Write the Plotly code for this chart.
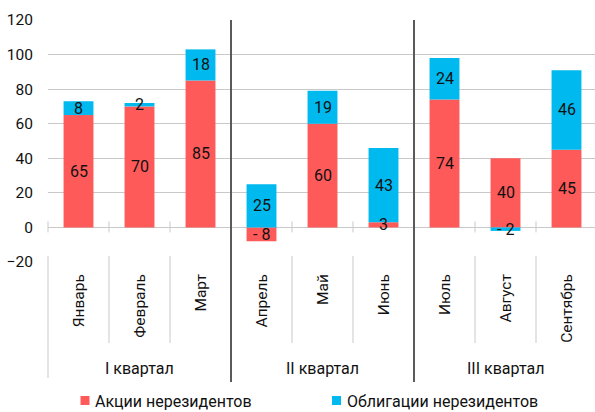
import plotly.graph_objects as go

# Monthly net purchases by non-residents, stacked by instrument
months = ["Январь", "Февраль", "Март", "Апрель", "Май", "Июнь",
          "Июль", "Август", "Сентябрь"]
quarters = ["I квартал", "II квартал", "III квартал"]
shares = [65, 70, 85, -8, 60, 3, 74, 40, 45]
bonds = [8, 2, 18, 25, 19, 43, 24, -2, 46]
series_names = ["Акции нерезидентов", "Облигации нерезидентов"]

RED = "#FF5A5A"
BLUE = "#00B9EE"
GRID = "#C9C9C9"
DARK = "#5A5A5A"
FONT = "Roboto"

W, H = 595, 412
ML, MR, MT, MB = 48, 0, 20, 150
plot_w = W - ML - MR
plot_h = H - MT - MB

Y_MIN, Y_MAX = -20, 120
n = len(months)
cat_px = 61.0
X0 = -0.5
X1 = X0 + plot_w / cat_px


def px_to_paper_x(px):
    return (px - ML) / plot_w


def px_to_paper_y(py):
    return (H - MB - py) / plot_h


def xval_to_paper(x):
    return (x - X0) / (X1 - X0)


def yval_to_paper(v):
    return (v - Y_MIN) / (Y_MAX - Y_MIN)


def fmt(v):
    return f"- {abs(v)}" if v < 0 else f"{v}"


x_idx = list(range(n))

fig = go.Figure()
fig.add_trace(go.Bar(x=x_idx, y=shares, name=series_names[0],
                     marker=dict(color=RED, line=dict(width=0)),
                     showlegend=False, hoverinfo="y"))
fig.add_trace(go.Bar(x=x_idx, y=bonds, name=series_names[1],
                     marker=dict(color=BLUE, line=dict(width=0)),
                     showlegend=False, hoverinfo="y"))

# Value labels centred in each stacked segment
annotations = []
for i in range(n):
    pos_base, neg_base = 0.0, 0.0
    for v in (shares[i], bonds[i]):
        if v >= 0:
            center = pos_base + v / 2
            pos_base += v
        else:
            center = neg_base + v / 2
            neg_base += v
        annotations.append(dict(x=i, y=center, xref="x", yref="y",
                                text=fmt(v), showarrow=False,
                                font=dict(family=FONT, size=16, color="#111111"),
                                xanchor="center", yanchor="middle"))

# Quarter group labels under the month labels
for q, label in enumerate(quarters):
    annotations.append(dict(x=xval_to_paper(q * 3 + 1), y=px_to_paper_y(368),
                            xref="paper", yref="paper", text=label,
                            showarrow=False,
                            font=dict(family=FONT, size=16, color="#111111"),
                            xanchor="center", yanchor="middle"))

shapes = []
line_light = dict(color=GRID, width=1)

# Short ticks crossing the zero line at category boundaries
zero_py = H - MB - yval_to_paper(0) * plot_h
for b in [-0.5, 0.5, 1.5, 3.5, 4.5, 6.5, 7.5]:
    xp = xval_to_paper(b)
    shapes.append(dict(type="line", xref="paper", yref="paper",
                       x0=xp, x1=xp, y0=px_to_paper_y(zero_py - 6),
                       y1=px_to_paper_y(zero_py + 5), line=line_light))

# Month separators in the category label band
for b in [0.5, 1.5, 3.5, 4.5, 6.5, 7.5]:
    xp = xval_to_paper(b)
    shapes.append(dict(type="line", xref="paper", yref="paper",
                       x0=xp, x1=xp, y0=px_to_paper_y(256),
                       y1=px_to_paper_y(343), line=line_light))

# Outer left edge of the category band
xp = xval_to_paper(-0.5)
shapes.append(dict(type="line", xref="paper", yref="paper",
                   x0=xp, x1=xp, y0=px_to_paper_y(256),
                   y1=px_to_paper_y(378), line=line_light))

# Quarter separators spanning the whole chart height
for b in [2.5, 5.5]:
    xp = xval_to_paper(b)
    shapes.append(dict(type="line", xref="paper", yref="paper",
                       x0=xp, x1=xp, y0=1.0, y1=px_to_paper_y(382),
                       line=dict(color=DARK, width=2)))

# Legend drawn as colour squares with captions
legend_items = [(RED, series_names[0], 80.5, 93), (BLUE, series_names[1], 332, 345)]
for color, label, sx, tx in legend_items:
    shapes.append(dict(type="rect", xref="paper", yref="paper",
                       x0=px_to_paper_x(sx), x1=px_to_paper_x(sx + 9),
                       y0=px_to_paper_y(396), y1=px_to_paper_y(405),
                       fillcolor=color, line=dict(width=0)))
    annotations.append(dict(x=px_to_paper_x(tx), y=px_to_paper_y(401),
                            xref="paper", yref="paper", text=label,
                            showarrow=False,
                            font=dict(family=FONT, size=16, color="#111111"),
                            xanchor="left", yanchor="middle"))

fig.update_layout(
    width=W, height=H,
    margin=dict(l=ML, r=MR, t=MT, b=MB, pad=0),
    paper_bgcolor="white", plot_bgcolor="white",
    barmode="relative", bargap=0.51,
    annotations=annotations, shapes=shapes,
    xaxis=dict(range=[X0, X1], tickmode="array", tickvals=x_idx,
               ticktext=months, tickangle=-90, ticks="",
               ticklabelstandoff=8, showgrid=False, zeroline=False,
               showline=False, fixedrange=True,
               tickfont=dict(family=FONT, size=15.5, color="#111111")),
    yaxis=dict(range=[Y_MIN, Y_MAX], tickmode="array",
               tickvals=list(range(-20, 121, 20)), ticks="",
               ticklabelstandoff=14, showgrid=True, gridcolor=GRID,
               gridwidth=1, zeroline=True, zerolinecolor=GRID,
               zerolinewidth=1, showline=False, fixedrange=True,
               tickfont=dict(family=FONT, size=15.5, color="#111111")),
    font=dict(family=FONT),
)

fig.write_html("out.html")
